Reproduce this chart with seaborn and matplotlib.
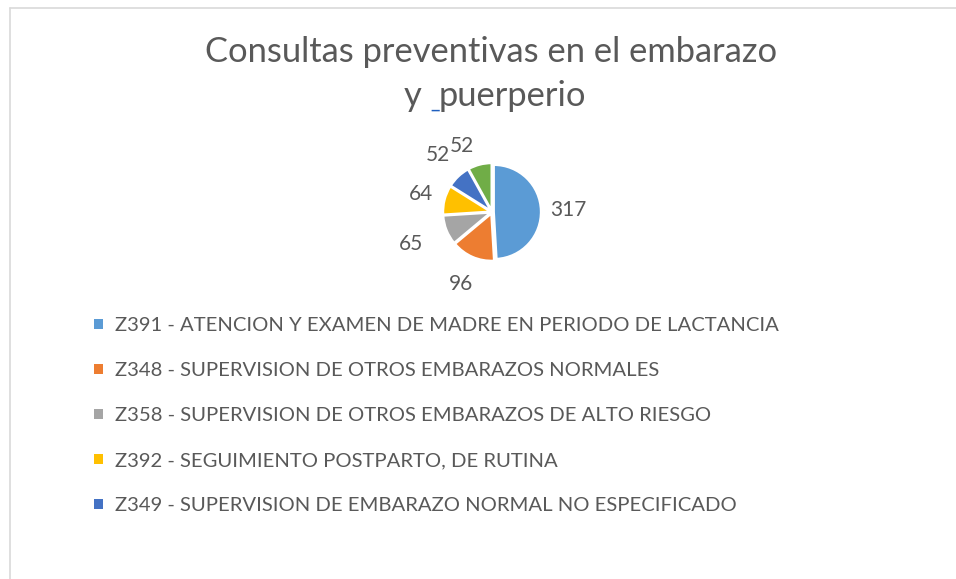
import matplotlib
matplotlib.use("Agg")
import numpy as np
import matplotlib.pyplot as plt
from matplotlib.lines import Line2D
import seaborn as sns

# data
codes = ["Z391", "Z348", "Z358", "Z392", "Z349", "otro"]
descriptions = [
    "ATENCION Y EXAMEN DE MADRE EN PERIODO DE LACTANCIA",
    "SUPERVISION DE OTROS EMBARAZOS NORMALES",
    "SUPERVISION DE OTROS EMBARAZOS DE ALTO RIESGO",
    "SEGUIMIENTO POSTPARTO, DE RUTINA",
    "SUPERVISION DE EMBARAZO NORMAL NO ESPECIFICADO",
    "",
]
counts = [317, 96, 65, 64, 52, 52]
n_legend = 5  # only the first five entries are visible in the legend

colors = ["#5B9BD5", "#ED7D31", "#A5A5A5", "#FFC000", "#4472C4", "#70AD47"]
text_color = "#595959"

# label placement (radius in pie units, angle nudge in degrees) - Excel best fit
label_radius = [1.62, 1.66, 1.85, 1.55, 1.68, 1.55]
label_nudge = [0, 0, 0, 0, 0, 10]

sns.set_theme(style="white")
plt.rcParams["font.family"] = ["Lato", "DejaVu Sans"]

W, H = 956, 579
fig = plt.figure(figsize=(W / 100, H / 100), dpi=100)
fig.patch.set_facecolor("white")

# chart frame (cut at right and bottom)
fig.add_artist(Line2D([10 / W, 10 / W], [0, 1 - 8 / H], color="#D9D9D9", lw=1.2))
fig.add_artist(Line2D([10 / W, 1], [1 - 8 / H, 1 - 8 / H], color="#D9D9D9", lw=1.2))

# pie axes
cx, cy, half = 492, 212, 100
ax = fig.add_axes([(cx - half) / W, 1 - (cy + half) / H, 2 * half / W, 2 * half / H])
wedges, _ = ax.pie(
    counts,
    colors=colors,
    startangle=90,
    counterclock=False,
    explode=[0.04] * len(counts),
    wedgeprops=dict(edgecolor="white", linewidth=1.5),
)
for w, v, r, d in zip(wedges, counts, label_radius, label_nudge):
    ang = np.deg2rad((w.theta1 + w.theta2) / 2 + d)
    ax.text(r * np.cos(ang), r * np.sin(ang), str(v), ha="center", va="center",
            fontsize=15, color=text_color)
lim = half / 47
ax.set_xlim(-lim, lim)
ax.set_ylim(-lim, lim)
ax.set_aspect("equal")
ax.axis("off")

# title (second line has a stray blue underscore in the original)
title_size = 24.8
fig.text(491 / W, 1 - 62 / H, "Consultas preventivas en el embarazo",
         ha="center", va="baseline", fontsize=title_size, color=text_color)
t_y = fig.text(404 / W, 1 - 106 / H, "y ", ha="left", va="baseline",
               fontsize=title_size, color=text_color)
t_u = ax.annotate("_", xy=(1, 0), xycoords=t_y, va="bottom", ha="left",
                  fontsize=title_size * 0.6, color="#1F5FBF",
                  annotation_clip=False)
ax.annotate("puerperio", xy=(0.85, 0), xycoords=t_u, va="bottom", ha="left",
            fontsize=title_size, color=text_color, annotation_clip=False)

handles = wedges[:n_legend]
labels = [f"{c} - {d}" for c, d in zip(codes[:n_legend], descriptions[:n_legend])]
leg = fig.legend(
    handles, labels,
    loc="upper left",
    bbox_to_anchor=(76 / W, 1 - 299 / H),
    frameon=False,
    fontsize=14.6,
    handlelength=0.45,
    handleheight=0.45,
    handletextpad=0.55,
    labelspacing=1.38,
)
for t in leg.get_texts():
    t.set_color(text_color)
for h in leg.legend_handles:
    h.set_edgecolor("none")

fig.savefig("out.png", dpi=100)
